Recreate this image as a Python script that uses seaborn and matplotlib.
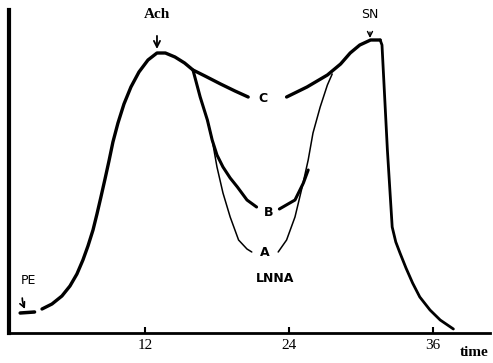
import numpy as np
import matplotlib
matplotlib.use("Agg")
import matplotlib.pyplot as plt
import seaborn as sns

# ================= DADOS =================
# tempo (min) e tensão (unidades arbitrárias)
t_subida = [3.42, 4.25, 5.08, 5.75, 6.33, 6.83, 7.25, 7.67, 8.0, 8.33, 8.67, 9.0, 9.33, 9.75, 10.25, 10.83,
            11.5, 12.25, 13.0, 13.7, 14.5, 15.3, 16.0, 17.0, 18.3, 19.5, 20.6]
v_subida = [24, 29, 37, 47, 59, 73, 87, 103, 119, 136, 154, 172, 191, 210, 229, 246,
            261, 273, 280, 280, 276, 270, 263, 257, 249, 242, 236]

t_c_dir = [23.8, 25.5, 27.2, 28.3, 29.1, 29.9, 30.8, 31.6]
v_c_dir = [236, 246, 258, 269, 280, 288, 293, 293]

t_queda = [31.6, 31.75, 32.2, 32.6, 32.9, 33.25, 33.75, 34.3, 34.9, 35.75, 36.6, 37.7]
v_queda = [293, 288, 183, 106, 91, 80, 65, 50, 36, 23, 13, 4]

t_b_esq = [16.0, 16.6, 17.2, 17.6, 18.0, 18.5, 19.1, 19.7, 20.5, 21.3]
v_b_esq = [263, 236, 213, 193, 178, 166, 155, 146, 133, 126]
t_b_dir = [23.2, 24.5, 25.2, 25.6]
v_b_dir = [124, 133, 150, 163]

t_a_esq = [17.2, 17.6, 18.0, 18.5, 19.1, 19.8, 20.5, 20.9]
v_a_esq = [213, 193, 166, 140, 116, 93, 84, 81]
t_a_dir = [23.1, 23.8, 24.5, 25.1, 25.6, 26.0, 26.6, 27.2, 27.6]
v_a_dir = [81, 93, 116, 146, 173, 200, 226, 248, 259]

ticks_x = [12, 24, 36]

# ================= FIGURA =================
sns.set_style("white")
plt.rcParams["text.color"] = "black"
plt.rcParams["xtick.color"] = "black"
fig = plt.figure(figsize=(4.93, 3.63), dpi=100)
ax = fig.add_axes([9 / 493, 30 / 363, 481 / 493, 323 / 363])

estilo = dict(color="black", sort=False, estimator=None,
              solid_joinstyle="round", solid_capstyle="round")
for tt, vv, lw in [(t_subida, v_subida, 2.4), (t_c_dir, v_c_dir, 2.4), (t_queda, v_queda, 2.0),
                   (t_b_esq, v_b_esq, 2.2), (t_b_dir, v_b_dir, 2.2),
                   (t_a_esq, v_a_esq, 1.1), (t_a_dir, v_a_dir, 1.1)]:
    sns.lineplot(x=tt, y=vv, ax=ax, linewidth=lw, **estilo)

ax.set_xlim(0.67, 40.75)
ax.set_ylim(0, 323)
ax.set_yticks([])
ax.set_xticks(ticks_x)
ax.set_xticklabels([str(v) for v in ticks_x], family="Liberation Serif", fontsize=11)
ax.tick_params(axis="x", direction="in", length=4, width=1.5, pad=4, bottom=True)
for s in ["top", "right"]:
    ax.spines[s].set_visible(False)
ax.spines["left"].set_linewidth(3)
ax.spines["bottom"].set_linewidth(2)
for s in ["left", "bottom"]:
    ax.spines[s].set_color("black")

# rótulos das curvas
kw = dict(ha="center", va="center", fontsize=9, fontweight="bold", family="DejaVu Sans")
ax.text(21.8, 234, "C", **kw)
ax.text(22.3, 121, "B", **kw)
ax.text(22.0, 80, "A", **kw)
ax.text(22.8, 54, "LNNA", **kw)

# marcadores de estímulo
ax.annotate("Ach", xy=(13.0, 284), xytext=(13.0, 318), ha="center", va="center",
            fontsize=11, fontweight="bold", family="Liberation Serif",
            arrowprops=dict(arrowstyle="->", color="black", lw=1.3, shrinkB=0, shrinkA=8))
ax.annotate("SN", xy=(30.75, 295), xytext=(30.75, 319), ha="center", va="center",
            fontsize=9, family="DejaVu Sans",
            arrowprops=dict(arrowstyle="->", color="black", lw=1.0, shrinkB=0, shrinkA=6))
ax.annotate("PE", xy=(2.0, 24), xytext=(2.3, 53), ha="center", va="center",
            fontsize=9, family="DejaVu Sans",
            arrowprops=dict(arrowstyle="->", color="black", lw=1.2, shrinkB=0, shrinkA=6,
                            connectionstyle="arc3,rad=0.3"))
sns.lineplot(x=[1.6, 2.8], y=[20, 21], ax=ax, color="black", linewidth=2.5, estimator=None)

fig.text(460 / 493, 1 - 353 / 363, "time", ha="left", va="center", fontsize=11,
         fontweight="bold", family="Liberation Serif")

fig.savefig("out.png", dpi=100)
